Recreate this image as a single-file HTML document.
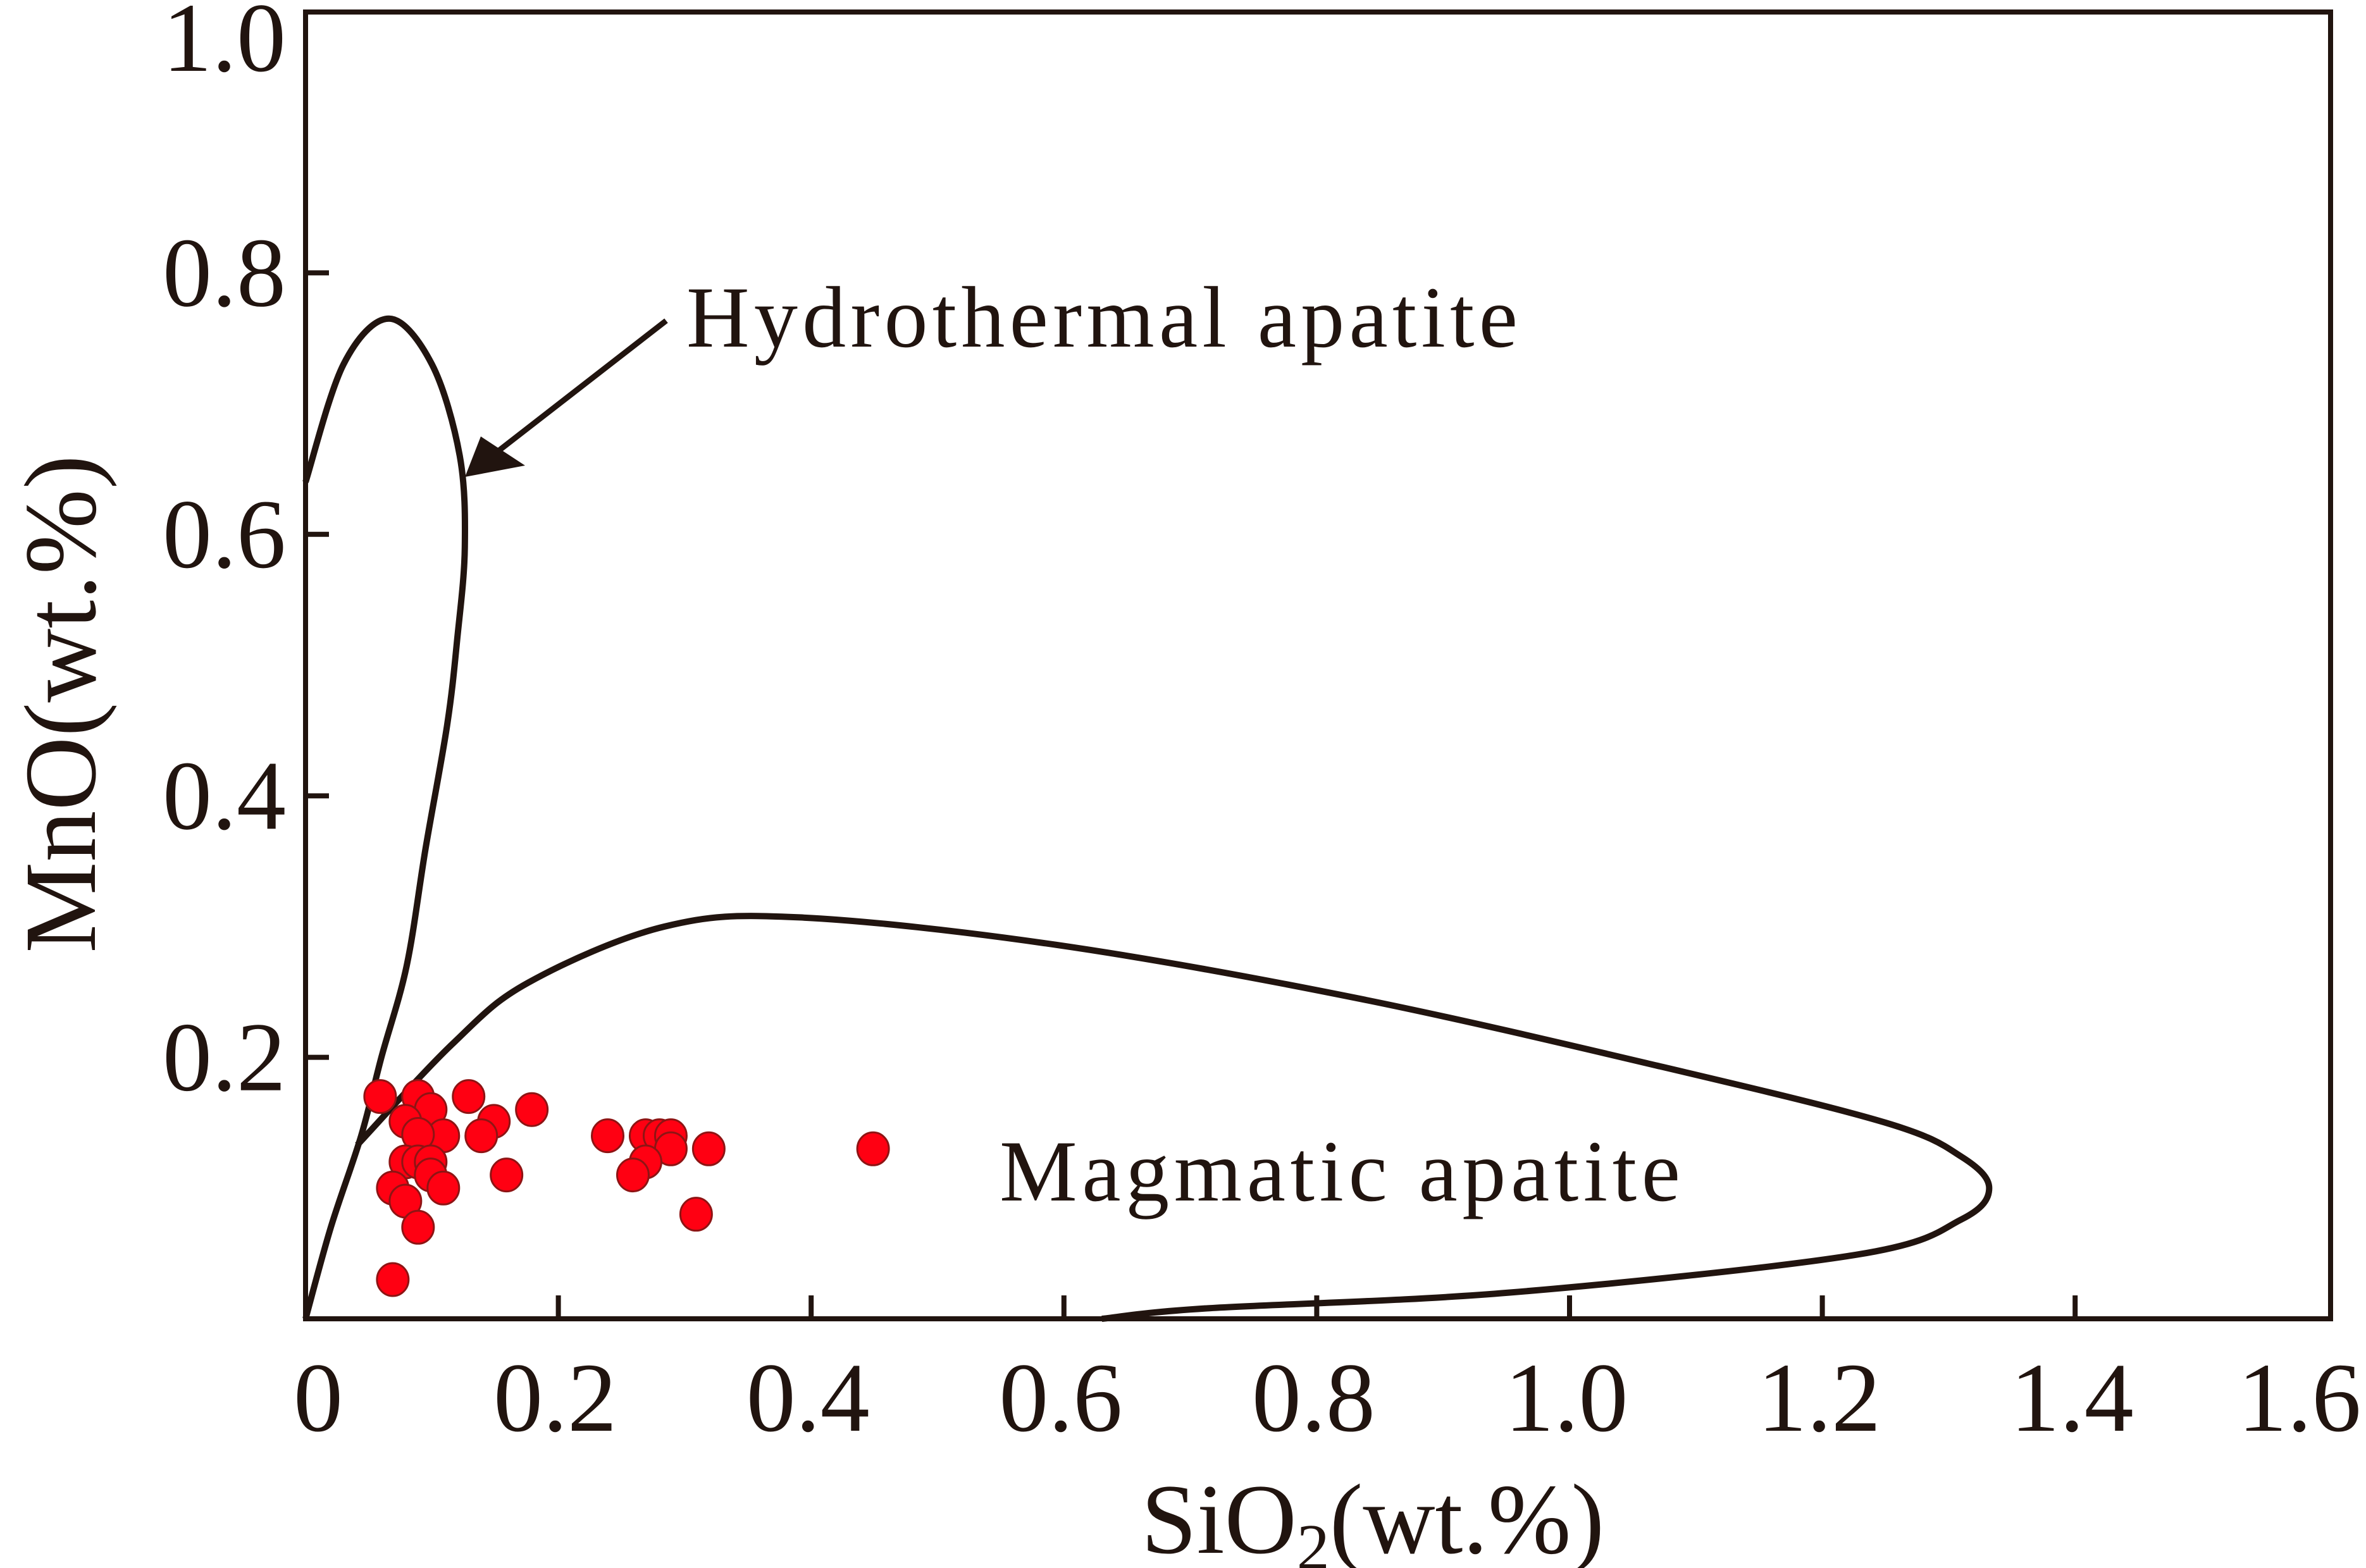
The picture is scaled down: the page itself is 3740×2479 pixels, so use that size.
<!DOCTYPE html>
<html><head><meta charset="utf-8"><style>
html,body{margin:0;padding:0;background:#fff;}
svg{display:block;}
text{font-family:"Liberation Serif",serif;fill:#21140f;}
</style></head><body>
<svg id="chart" width="3740" height="2479" viewBox="0 0 3740 2479" xmlns="http://www.w3.org/2000/svg">
<g id="plot"></g>
</svg>
<script>
const xTicks=[0,0.2,0.4,0.6,0.8,1.0,1.2,1.4,1.6];
const xTickLabels=["0","0.2","0.4","0.6","0.8","1.0","1.2","1.4","1.6"];
const yTicks=[0.2,0.4,0.6,0.8,1.0];
const yTickLabels=["0.2","0.4","0.6","0.8","1.0"];
const sampleSiO2=[0.059,0.089,0.099,0.129,0.179,0.149,0.079,0.109,0.139,0.239,0.269,0.280,0.289,0.289,0.319,0.449,0.089,0.079,0.089,0.099,0.099,0.159,0.269,0.259,0.069,0.109,0.079,0.089,0.309,0.069];
const sampleMnO=[0.170,0.170,0.160,0.170,0.160,0.151,0.151,0.140,0.140,0.140,0.140,0.140,0.140,0.130,0.130,0.130,0.141,0.120,0.120,0.120,0.110,0.110,0.120,0.110,0.100,0.100,0.090,0.070,0.080,0.030];
const hydroX=[0,0.03,0.066,0.10,0.122,0.126,0.12,0.112,0.095,0.08,0.06,0.044,0.02,0];
const hydroY=[0.64,0.73,0.765,0.73,0.66,0.59,0.52,0.454,0.36,0.27,0.20,0.14,0.07,0];
const magX=[0.041,0.116,0.176,0.284,0.391,0.594,0.833,1.072,1.25,1.31,1.332,1.31,1.227,0.952,0.713,0.63];
const magY=[0.133,0.21,0.257,0.30,0.307,0.286,0.245,0.193,0.15,0.124,0.10,0.076,0.049,0.02,0.008,0];

const X0=483, XS=1998, Y0=2085, YS=2067;
const sx=v=>X0+v*XS, sy=v=>Y0-v*YS;
const NS="http://www.w3.org/2000/svg";
const g=document.getElementById('plot');
function mk(t,a){const e=document.createElementNS(NS,t);for(const k in a)e.setAttribute(k,a[k]);g.appendChild(e);return e;}

function smooth(xs,ys){
  const p=xs.map((x,i)=>[sx(x),sy(ys[i])]);
  let d=`M${p[0][0]},${p[0][1]}`;
  for(let i=0;i<p.length-1;i++){
    const p0=p[i-1]||p[i],p1=p[i],p2=p[i+1],p3=p[i+2]||p2;
    const c1=[p1[0]+(p2[0]-p0[0])/6,p1[1]+(p2[1]-p0[1])/6];
    const c2=[p2[0]-(p3[0]-p1[0])/6,p2[1]-(p3[1]-p1[1])/6];
    d+=` C${c1[0]},${c1[1]} ${c2[0]},${c2[1]} ${p2[0]},${p2[1]}`;
  }
  return d;
}
let e;
e=mk('path',{d:smooth(hydroX,hydroY),fill:'none',stroke:'#21140f','stroke-width':10});


e=mk('path',{d:smooth(magX,magY),fill:'none',stroke:'#21140f','stroke-width':10});



sampleSiO2.forEach((x,i)=>{
  const c=mk('ellipse',{cx:sx(x),cy:sy(sampleMnO[i]),rx:25,ry:26,fill:'#ff0012',stroke:'#8e1414','stroke-width':3});
  
  
});

e=mk('rect',{x:483,y:19,width:3201,height:2066,fill:'none',stroke:'#21140f','stroke-width':8});



xTicks.forEach((v,i)=>{
  if(i>0&&i<8){const t=mk('line',{x1:sx(v),x2:sx(v),y1:Y0,y2:Y0-37,stroke:'#21140f','stroke-width':8});
  
  }
  const l=mk('text',{x:sx(v)+(i===0?20:(i===8?-45:-5)),y:2262,'font-size':156,'text-anchor':'middle'});
  l.textContent=xTickLabels[i];
  
  
});
yTicks.forEach((v,i)=>{
  if(v<1){const t=mk('line',{x1:X0,x2:X0+37,y1:sy(v),y2:sy(v),stroke:'#21140f','stroke-width':8});
  
  }
  const l=mk('text',{x:452,y:sy(v)+(v===1?94:52),'font-size':156,'text-anchor':'end'});
  l.textContent=yTickLabels[i];
  
  
});

e=mk('line',{x1:1053,y1:507,x2:780,y2:719,stroke:'#21140f','stroke-width':9});


e=mk('polygon',{points:'735,754 760,690 830,736',fill:'#21140f'});



e=mk('text',{x:1085,y:548,'font-size':138,textLength:1314,lengthAdjust:'spacing'});
e.textContent='Hydrothermal apatite';


e=mk('text',{x:1580,y:1898,'font-size':138,textLength:1076,lengthAdjust:'spacing'});
e.textContent='Magmatic apatite';



e=mk('text',{x:2170,y:2455,'font-size':158,'text-anchor':'middle'});
e.innerHTML='SiO<tspan font-size="104" dy="26">2</tspan><tspan dy="-26">(wt.%)</tspan>';


e=mk('text',{x:0,y:0,'font-size':162,'text-anchor':'middle',transform:'translate(150,1113) rotate(-90)'});
e.textContent='MnO(wt.%)';


</script>
</body></html>
